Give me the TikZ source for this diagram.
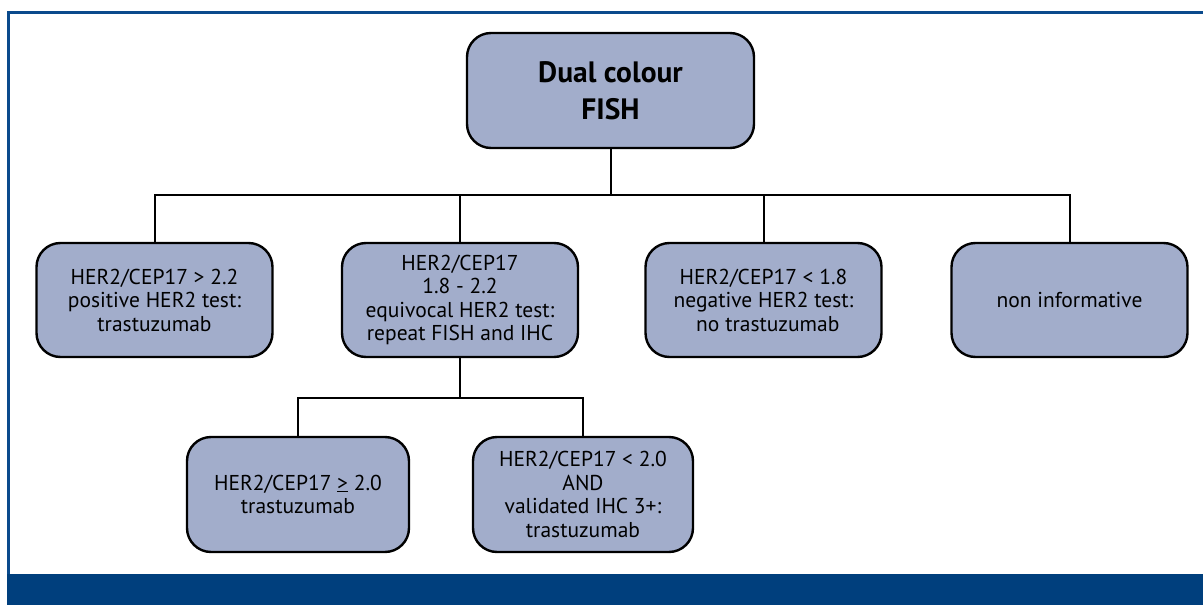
\documentclass[tikz,border=0pt]{standalone}
\usepackage{fontspec}
\setmainfont{PT Sans}
\definecolor{boxfill}{RGB}{162,173,203}
\definecolor{bandblue}{RGB}{0,63,125}
\definecolor{frameblue}{RGB}{10,74,140}
\begin{document}
\begin{tikzpicture}[x=1pt,y=-1pt,
  box/.style={draw=black,line width=2.4pt,fill=boxfill,rounded corners=24pt,
    minimum width=236pt,minimum height=114pt,align=center,inner sep=2pt,
    font=\fontsize{21.5}{23.5}\selectfont},
  conn/.style={draw=black,line width=2pt}]
\useasboundingbox (0,0) rectangle (1203,605);
% frame and band
\fill[bandblue] (7,574) rectangle (1203,605);
\draw[frameblue,line width=3pt] (8.5,574) -- (8.5,12) -- (1203,12);
% nodes
\node[box,minimum width=287pt,minimum height=115pt,font=\fontsize{29.5}{37}\selectfont\bfseries] (top) at (610.5,90.5) {Dual colour\\FISH};
\node[box] (b1) at (154.5,300) {HER2/CEP17 > 2.2\\positive HER2 test:\\trastuzumab};
\node[box] (b2) at (460,300) {HER2/CEP17\\1.8 - 2.2\\equivocal HER2 test:\\repeat FISH and IHC};
\node[box] (b3) at (763.5,300) {HER2/CEP17 < 1.8\\negative HER2 test:\\\hspace{0.4em}no trastuzumab};
\node[box] (b4) at (1069.5,300) {non informative};
\node[box,minimum width=222pt,minimum height=115pt] (sa) at (298,494.5) {HER2/CEP17 \underline{>} 2.0\\trastuzumab};
\node[box,minimum width=220pt,minimum height=115pt] (sb) at (583,494.5) {HER2/CEP17 < 2.0\\AND\\validated IHC 3+:\\trastuzumab};
\coordinate (bus) at (0,195);
\coordinate (sbus) at (0,398);
% connectors
\draw[conn] (top.south) -- (top.south |- bus);
\draw[conn] (b1.north) -- (b1.north |- bus) -- (b4.north |- bus) -- (b4.north);
\draw[conn] (b2.north) -- (b2.north |- bus);
\draw[conn] (b3.north) -- (b3.north |- bus);
\draw[conn] (b2.south) -- (b2.south |- sbus);
\draw[conn] (sa.north) -- (sa.north |- sbus) -- (sb.north |- sbus) -- (sb.north);
\end{tikzpicture}
\end{document}
